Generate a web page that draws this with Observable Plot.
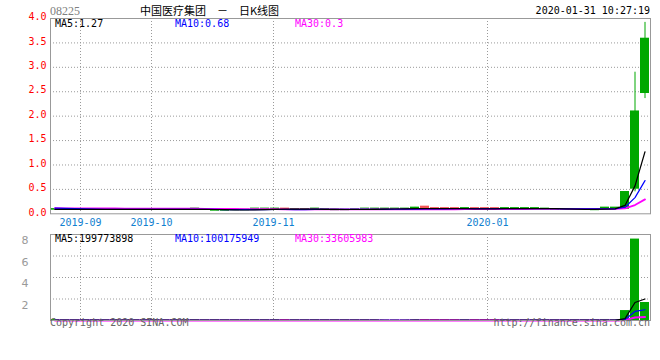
<!DOCTYPE html>
<html><head><meta charset="utf-8">
<script src="https://cdn.jsdelivr.net/npm/d3@7"></script>
<script src="https://cdn.jsdelivr.net/npm/@observablehq/plot@0.6"></script>
<style>
body{margin:0;background:#fff;}
#wrap{position:relative;width:660px;height:360px;overflow:hidden;font-family:"DejaVu Sans Mono",monospace;font-size:10px;}
.t{position:absolute;white-space:pre;line-height:1;}
#wrap svg{position:absolute;left:0;}
</style></head><body><div id="wrap"></div>
<script>
const stockCode = "08225";
const title = "中国医疗集团 － 日K线图";
const stamp = "2020-01-31 10:27:19";
const copyright = "Copyright 2020 SINA.COM";
const site = "http://finance.sina.com.cn";
const monthLabels = ["2019-09", "2019-10", "2019-11", "2020-01"];
const monthStarts = [3, 10.1, 22.3, 43.7];
const priceTicks = [0, 0.5, 1, 1.5, 2, 2.5, 3, 3.5, 4];
const priceGrid = [0.5, 1, 1.5, 2, 2.5, 3, 3.5];
const volTicks = [2e8, 4e8, 6e8, 8e8];
const maNames = ["MA5", "MA10", "MA30"];
const maPeriods = [5, 10, 30];
const maColors = ["#000000", "#0000ff", "#ff00ff"];
const priceMA = ["1.27", "0.68", "0.3"];
const volMA = ["199773898", "100175949", "33605983"];

const prevClose = [0.12,0.12,0.11,0.11,0.12,0.11,0.11,0.12,0.11,0.11,0.12,0.11,0.11,0.11,0.12,0.11,0.11,0.11,0.11,0.11,0.14,0.14,0.14,0.14,0.14,0.09,0.09,0.09,0.09];
const prevVolume = [500000,400000,600000,300000,500000,400000,300000,500000,600000,400000,300000,500000,400000,300000,600000,500000,400000,300000,500000,400000,900000,800000,700000,600000,500000,1000000,800000,600000,900000];

const open  = [0.09,0.09,0.09,0.09,0.09,0.09,0.09,0.09,0.09,0.09,0.09,0.09,0.09,0.09,0.09,0.09,0.07,0.07,0.08,0.08,
               0.09,0.09,0.09,0.10,0.09,0.09,0.09,0.09,0.08,0.08,0.09,0.10,0.10,0.10,0.09,0.09,0.09,0.14,0.11,0.11,
               0.11,0.10,0.11,0.11,0.11,0.10,0.10,0.10,0.11,0.10,0.09,0.09,0.09,0.09,0.08,0.11,0.11,0.11,0.52,2.48];
const close = [0.09,0.09,0.09,0.09,0.09,0.09,0.09,0.09,0.09,0.09,0.09,0.09,0.09,0.09,0.10,0.09,0.07,0.07,0.08,0.08,
               0.10,0.10,0.10,0.09,0.09,0.09,0.10,0.09,0.08,0.08,0.09,0.10,0.10,0.10,0.10,0.10,0.12,0.11,0.10,0.10,
               0.10,0.11,0.10,0.10,0.10,0.11,0.11,0.11,0.11,0.10,0.09,0.09,0.09,0.09,0.09,0.12,0.12,0.44,2.09,3.58];
const high  = [0.09,0.09,0.09,0.09,0.09,0.09,0.09,0.09,0.09,0.09,0.09,0.09,0.09,0.09,0.10,0.09,0.07,0.07,0.08,0.08,
               0.10,0.10,0.10,0.10,0.09,0.09,0.10,0.09,0.08,0.08,0.09,0.10,0.10,0.10,0.10,0.10,0.13,0.14,0.11,0.11,
               0.11,0.11,0.11,0.11,0.11,0.11,0.11,0.11,0.11,0.10,0.09,0.09,0.09,0.10,0.09,0.12,0.12,0.45,2.90,3.92];
const low   = [0.09,0.09,0.09,0.09,0.09,0.09,0.09,0.09,0.09,0.09,0.09,0.09,0.09,0.09,0.09,0.09,0.07,0.07,0.08,0.08,
               0.09,0.09,0.09,0.09,0.09,0.09,0.09,0.09,0.08,0.08,0.09,0.10,0.10,0.10,0.09,0.09,0.09,0.11,0.10,0.10,
               0.10,0.10,0.10,0.10,0.10,0.10,0.10,0.10,0.11,0.10,0.09,0.09,0.09,0.09,0.08,0.11,0.11,0.10,0.45,2.36];
const volume = [1200000,800000,600000,500000,400000,300000,500000,200000,300000,400000,
                600000,200000,300000,200000,1500000,300000,800000,400000,200000,300000,
                900000,700000,600000,500000,200000,100000,800000,200000,300000,200000,
                200000,300000,200000,100000,300000,200000,900000,600000,400000,300000,
                300000,400000,200000,300000,200000,400000,300000,300000,200000,310000,
                400000,500000,600000,790000,600000,2000000,1870000,85000000,750000000,160000000];

const UP = "#00a800", DOWN = "#f25555", GRID = "#9a9a9a", FRAME = "#999999";
const off = prevClose.length;
const allClose = prevClose.concat(close);
const allVol = prevVolume.concat(volume);
const rows = close.map((c, i) => ({i, x1: i, x2: i + 0.9, xc: i + 0.45, open: open[i], close: c, high: high[i], low: low[i], vol: volume[i], up: c >= open[i]}));
maPeriods.forEach((p, j) => rows.forEach((r, i) => {
  r["pma" + j] = d3.mean(allClose.slice(off + i - p + 1, off + i + 1));
  r["vma" + j] = d3.mean(allVol.slice(off + i - p + 1, off + i + 1));
}));
const months = monthLabels.map((label, k) => ({label, at: monthStarts[k]}));
const mono = "DejaVu Sans Mono";

const p1 = Plot.plot({
  width: 660, height: 230, marginLeft: 50, marginRight: 10, marginTop: 18, marginBottom: 16.7,
  x: {type: "linear", domain: [0, 60], axis: null},
  y: {domain: [0, 4], axis: null},
  style: {background: "transparent", overflow: "visible", fontFamily: mono, fontSize: "10px"},
  marks: [
    Plot.gridY(priceGrid, {stroke: GRID, strokeOpacity: 1, strokeDasharray: "1,2"}),
    Plot.gridX(monthStarts, {stroke: GRID, strokeOpacity: 1, strokeDasharray: "1,2"}),
    Plot.ruleX(rows.filter(r => r.up), {x: "xc", y1: "low", y2: "high", stroke: UP}),
    Plot.ruleX(rows.filter(r => !r.up), {x: "xc", y1: "low", y2: "high", stroke: DOWN}),
    Plot.rect(rows.filter(r => r.up), {x1: "x1", x2: "x2", y1: "open", y2: "close", fill: UP, insetTop: -0.8, insetBottom: -0.8}),
    Plot.rect(rows.filter(r => !r.up), {x1: "x1", x2: "x2", y1: "open", y2: "close", fill: DOWN, insetTop: -0.8, insetBottom: -0.8}),
    ...[2, 1, 0].map(j => Plot.line(rows, {x: "xc", y: "pma" + j, stroke: maColors[j], strokeWidth: j === 2 ? 1.8 : 1.2})),
    Plot.frame({stroke: FRAME}),
    Plot.axisY(priceTicks, {tickSize: 0, tickPadding: 4, tickFormat: d => d.toFixed(1), color: "#ff0000", fontSize: 10, fontFamily: mono, dy: -1.5}),
    Plot.text(months, {x: "at", y: () => 0, text: "label", fill: "#1080d0", dy: 9, fontSize: 10, fontFamily: mono})
  ]
});
p1.style.top = "0px";

const p2 = Plot.plot({
  width: 660, height: 110, marginLeft: 50, marginRight: 10, marginTop: 4, marginBottom: 20,
  x: {type: "linear", domain: [0, 60], axis: null},
  y: {domain: [0, 8e8], axis: null},
  style: {background: "transparent", overflow: "visible", fontFamily: mono, fontSize: "10px"},
  marks: [
    Plot.gridY([2e8, 4e8, 6e8], {stroke: GRID, strokeOpacity: 1, strokeDasharray: "1,2"}),
    Plot.gridX(monthStarts, {stroke: GRID, strokeOpacity: 1, strokeDasharray: "1,2"}),
    Plot.rect(rows.filter(r => r.up), {x1: "x1", x2: "x2", y1: () => 0, y2: "vol", fill: UP, insetTop: -0.8}),
    Plot.rect(rows.filter(r => !r.up), {x1: "x1", x2: "x2", y1: () => 0, y2: "vol", fill: DOWN, insetTop: -0.8}),
    ...[2, 1, 0].map(j => Plot.line(rows, {x: "xc", y: "vma" + j, stroke: maColors[j], strokeWidth: j === 2 ? 2 : 1.2})),
    Plot.frame({stroke: FRAME}),
    Plot.axisY(volTicks, {tickSize: 0, tickPadding: 22, tickFormat: d => d / 1e8, color: "#999999", fontSize: 11, fontFamily: "DejaVu Sans", dy: 6})
  ]
});
p2.style.top = "230px";

const wrap = document.getElementById("wrap");
wrap.append(p1, p2);
function label(text, css) {
  const s = document.createElement("div");
  s.className = "t";
  s.textContent = text;
  Object.assign(s.style, css);
  wrap.append(s);
}
label(stockCode, {left: "50px", top: "5px", fontFamily: "'Liberation Serif'", fontSize: "12px", color: "#808080"});
label(title.replace(/ /g, "\u3000"), {left: "140px", top: "5px", fontFamily: "'Noto Sans CJK SC'", fontSize: "11px", color: "#000"});
label(stamp, {right: "10px", top: "6px", color: "#000"});
maNames.forEach((n, j) => {
  label(n + ":" + priceMA[j], {left: (55 + 120 * j) + "px", top: "19px", color: maColors[j]});
  label(n + ":" + volMA[j], {left: (55 + 120 * j) + "px", top: "234px", color: maColors[j]});
});
label(copyright, {left: "50px", top: "318px", color: "#666"});
label(site, {right: "10px", top: "318px", color: "#666"});
</script></body></html>
